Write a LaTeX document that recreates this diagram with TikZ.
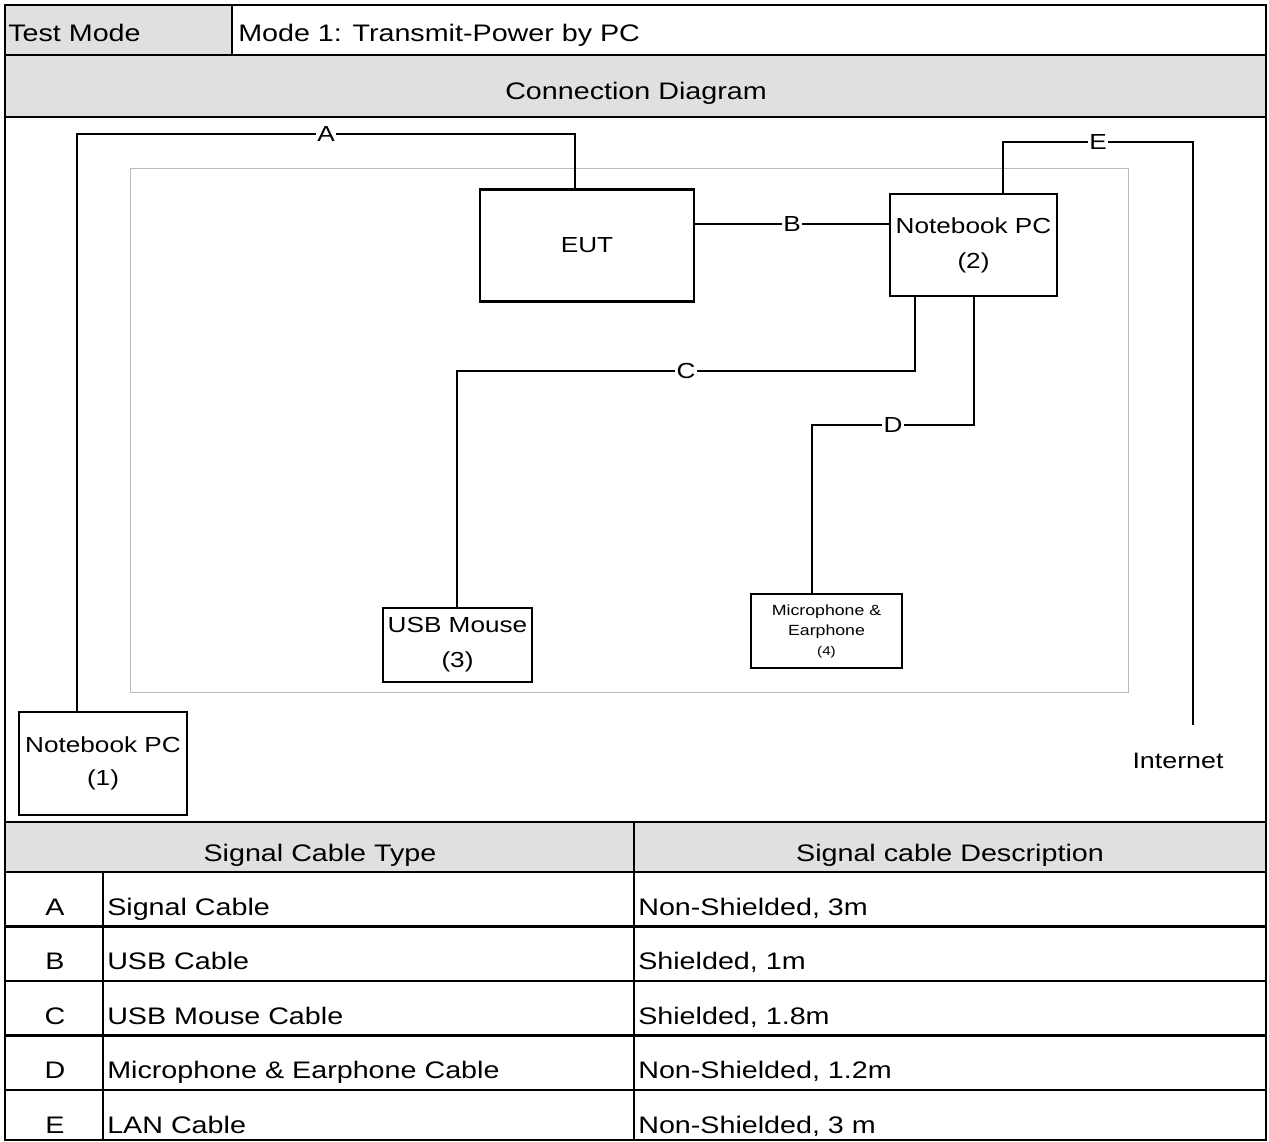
\documentclass[tikz,border=0pt]{standalone}
\usepackage{fontspec}
\setmainfont{Liberation Sans}[FakeStretch=1.2]
\usepackage{xcolor}
\usetikzlibrary{positioning}
\definecolor{cellgray}{RGB}{224,224,224}
\definecolor{framegray}{RGB}{185,185,185}
\newcommand{\pxu}{0.025cm}

\begin{document}
\begin{tikzpicture}[
    x=0.025cm, y=-0.025cm,
    rule/.style={line width=1.7pt},
    box/.style={draw, rectangle, line width=1.9pt, align=center, inner sep=0pt, font=\fontsize{15.5}{25}\selectfont},
    cable/.style={line width=1.4pt},
    lbl/.style={fill=white, inner sep=1pt, font=\fontsize{15.5}{16}\selectfont},
    cell/.style={anchor=base west, inner sep=0pt, font=\fontsize{17}{20}\selectfont},
    head/.style={anchor=base, inner sep=0pt, font=\fontsize{17}{20}\selectfont}
  ]
  \useasboundingbox (0,0) rectangle (1269,1142);

  % shaded cells
  \fill[cellgray] (5,5) rectangle (232,55);
  \fill[cellgray] (5,55) rectangle (1266,117);
  \fill[cellgray] (5,822) rectangle (1266,872);

  % table rules
  \draw[rule] (5,5) rectangle (1266,1140);
  \foreach \y in {55,117,822,872,926.5,981,1035.5,1090}
    \draw[rule] (5,\y) -- (1266,\y);
  \draw[rule] (232,5) -- (232,55);
  \draw[rule] (103,872) -- (103,1140);
  \draw[rule] (634,822) -- (634,1140);

  % header texts
  \node[cell] (mode) at (8,42) {Test Mode};
  \node[cell] (modeval) at (238,42) {Mode 1: Transmit-Power by PC};
  \node[head] (diag) at (636,100) {Connection Diagram};
  \node[head] (typehd) at (320,861) {Signal Cable Type};
  \node[head] (deschd) at (950,861) {Signal cable Description};

  % cable rows
  \foreach \l/\t/\d [count=\i from 0] in {A/Signal Cable/{Non-Shielded, 3m}, B/USB Cable/{Shielded, 1m}, C/USB Mouse Cable/{Shielded, 1.8m}, D/Microphone \& Earphone Cable/{Non-Shielded, 1.2m}, E/LAN Cable/{Non-Shielded, 3 m}} {
    \pgfmathsetmacro{\yb}{915+54.5*\i}
    \node[head] (let\l) at (55,\yb) {\l};
    \node[cell] (typ\l) at (107,\yb) {\t};
    \node[cell] (dsc\l) at (638,\yb) {\d};
  }

  % test area
  \draw[framegray, line width=0.6pt] (130,168) rectangle (1128,692);

  \node[box, minimum width=214*\pxu, minimum height=112*\pxu, font=\fontsize{15.5}{18}\selectfont] (eut) at (587,245.5) {EUT};
  \node[box, minimum width=167*\pxu, minimum height=102*\pxu] (nb2) at (973.5,245) {Notebook PC\\(2)};
  \node[box, minimum width=149*\pxu, minimum height=74*\pxu] (usb) at (457.5,645) {USB Mouse\\(3)};
  \node[box, minimum width=151*\pxu, minimum height=74*\pxu, font=\fontsize{10.5}{14.2}\selectfont] (mic) at (826.5,631) {Microphone \&\\Earphone\\{\fontsize{9}{14.2}\selectfont(4)}};
  \node[box, minimum width=168*\pxu, minimum height=103*\pxu, font=\fontsize{15.5}{23.4}\selectfont] (nb1) at (103,763.5) {Notebook PC\\(1)};
  \node[inner sep=0pt, font=\fontsize{15.9}{18}\selectfont] (inet) at (1178,761) {Internet};

  % cables
  \coordinate (a1) at (77,134);
  \coordinate (a2) at (575,134);
  \coordinate (b1) at (694,224);
  \coordinate (c1) at (915,371);
  \coordinate (c2) at (457,371);
  \coordinate (d1) at (974,425);
  \coordinate (d2) at (812,425);
  \coordinate (e1) at (1003,142);
  \coordinate (e2) at (1193,142);
  \coordinate (e3) at (1193,725);

  \draw[cable] (nb1.north -| a1) -- (a1) -- node[lbl] {A} (a2) -- (a2 |- eut.north);
  \draw[cable] (eut.east |- b1) -- node[lbl] {B} (nb2.west |- b1);
  \draw[cable] (nb2.south -| c1) -- (c1) -- node[lbl] {C} (c2) -- (c2 |- usb.north);
  \draw[cable] (nb2.south -| d1) -- (d1) -- node[lbl] {D} (d2) -- (d2 |- mic.north);
  \draw[cable] (nb2.north -| e1) -- (e1) -- node[lbl] {E} (e2) -- (e3);
\end{tikzpicture}
\end{document}
